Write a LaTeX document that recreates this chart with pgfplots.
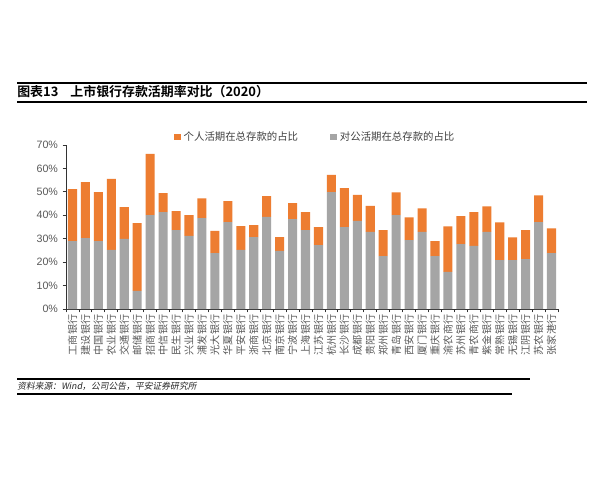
\documentclass[border=0pt]{standalone}
\usepackage{pgfplots}
\pgfplotsset{compat=1.18}
\usepackage{pgfplotstable}
\usepackage{fontspec}
\setmainfont{Liberation Sans}
\newfontfamily\cjk{Noto Sans CJK SC}
\newfontfamily\cjkb{Noto Sans CJK SC Bold}
\newfontfamily\cjksl[FakeSlant=0.18]{Noto Sans CJK SC}

\definecolor{perso}{HTML}{ED7D31}
\definecolor{corp}{HTML}{A5A5A5}
\definecolor{txt}{HTML}{595959}

% idx, corporate demand share, personal demand share (% of total deposits)
\pgfplotstableread{
x corp pers
0 29.0 22.2
1 30.3 23.9
2 29.0 20.9
3 25.2 30.3
4 29.9 13.6
5 7.7 29.0
6 40.1 26.1
7 41.4 8.1
8 33.7 8.1
9 31.2 8.9
10 38.8 8.4
11 23.9 9.4
12 37.1 9.0
13 25.2 10.2
14 30.7 5.1
15 39.3 8.9
16 24.8 5.9
17 38.4 6.8
18 33.7 7.7
19 27.3 7.7
20 49.9 7.3
21 35.0 16.6
22 37.6 11.1
23 32.9 11.1
24 22.6 11.1
25 40.1 9.7
26 29.4 9.7
27 32.9 10.1
28 22.6 6.4
29 15.8 19.5
30 27.7 11.9
31 26.9 14.5
32 32.9 10.9
33 20.9 16.1
34 20.9 9.7
35 21.3 12.4
36 37.1 11.4
37 23.8 10.6
}\banks

\begin{document}
\begin{tikzpicture}
\fill[white] (0,0) rectangle (450pt,360pt);
\path[use as bounding box] (0,0) rectangle (450pt,360pt);

% title block
\draw[black, line width=1.1pt] (12.75pt,297.75pt) -- (440.25pt,297.75pt);
\draw[black, line width=0.8pt] (12.75pt,283.5pt) -- (440.25pt,283.5pt);
\node[anchor=west, inner sep=0pt, font=\cjkb\fontsize{9.7}{11}\selectfont] at (12.75pt,291pt)
  {图表13\hspace{9pt}上市银行存款活期率对比（2020）};

\begin{axis}[
  at={(49.5pt,128.25pt)}, anchor=south west,
  scale only axis,
  width=369pt, height=123pt,
  ybar stacked,
  bar width=0.7,
  xmin=-0.5, xmax=37.5,
  ymin=0, ymax=70,
  axis x line=bottom, axis y line=left,
  axis line style={-, black!80, line width=0.6pt},
  tick align=outside,
  ytick={0,10,...,70},
  yticklabel={\pgfmathprintnumber{\tick}\%},
  /pgf/number format/assume math mode=true,
  yticklabel style={font=\fontsize{8}{9}\selectfont, text=txt},
  major tick length=2.5pt,
  y tick style={black!80, line width=0.6pt},
  xtick={0,...,37},
  major x tick style={draw=none},
  minor xtick={-0.5,0.5,...,37.5},
  minor tick length=2.5pt,
  minor x tick style={black!80, line width=0.6pt},
  xticklabels={工商银行,建设银行,中国银行,农业银行,交通银行,邮储银行,招商银行,中信银行,民生银行,兴业银行,浦发银行,光大银行,华夏银行,平安银行,浙商银行,北京银行,南京银行,宁波银行,上海银行,江苏银行,杭州银行,长沙银行,成都银行,贵阳银行,郑州银行,青岛银行,西安银行,厦门银行,重庆银行,渝农商行,苏州银行,青农商行,紫金银行,常熟银行,无锡银行,江阴银行,苏农银行,张家港行},
  xticklabel style={font=\cjk\fontsize{7.6}{8}\selectfont, text=txt, rotate=90, anchor=east, inner sep=1.5pt},
  legend style={at={(0.5,1)}, anchor=center, xshift=2.6pt, yshift=6pt,
    draw=none, fill=none, font=\cjk\fontsize{7.8}{9}\selectfont, text=black!75,
    /tikz/every even column/.append style={column sep=22pt}},
  legend columns=2,
  reverse legend,
  legend image code/.code={\fill[#1] (0pt,-2.6pt) rectangle (5.4pt,2.6pt);},
]
\addplot[fill=corp, draw=none] table[x=x, y=corp] {\banks};
\addplot[fill=perso, draw=none] table[x=x, y=pers] {\banks};
\legend{对公活期在总存款的占比, 个人活期在总存款的占比}
\end{axis}

% source block
\draw[black, line width=0.8pt] (12.75pt,75.75pt) -- (397.5pt,75.75pt);
\draw[black, line width=0.8pt] (12.75pt,64.5pt) -- (384pt,64.5pt);
\node[anchor=west, inner sep=0pt, text=black!85, font=\cjksl\fontsize{6.6}{8}\selectfont] at (12.75pt,70.5pt)
  {资料来源：Wind，公司公告，平安证券研究所};
\end{tikzpicture}
\end{document}
